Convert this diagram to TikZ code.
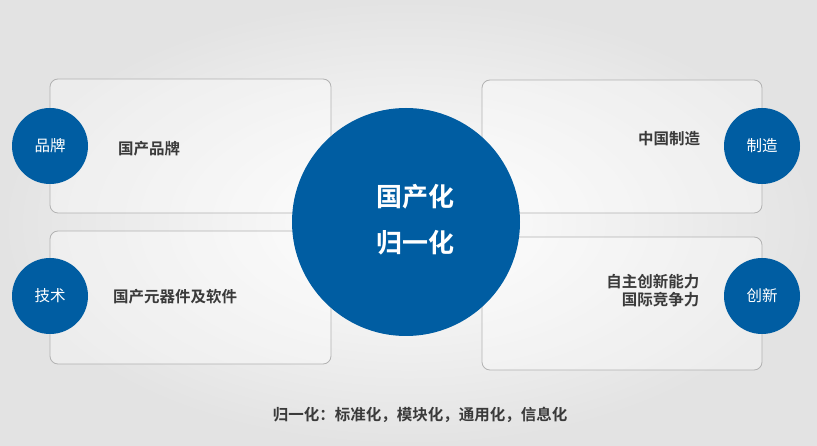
\documentclass[tikz,border=0pt]{standalone}
\usepackage{fontspec}
\setmainfont{Noto Sans CJK SC}
\newfontfamily\cjkb{Noto Sans CJK SC Bold}
\begin{document}
\begin{tikzpicture}[x=1pt,y=-1pt,
  panel/.style={draw=gray!60,line width=0.8pt,rounded corners=8pt,fill=white,fill opacity=0.35},
  dot/.style={circle,fill=blue1,inner sep=0pt,minimum size=76pt,text=white,font=\fontsize{15.5}{18}\selectfont},
  lbl/.style={text=txt,font=\cjkb\fontsize{15.5}{19}\selectfont}]
\definecolor{blue1}{HTML}{005DA2}
\definecolor{txt}{HTML}{3A3A3A}
\useasboundingbox (0,0) rectangle (817,446);
\shade[inner color=white,outer color=gray!22] (0,0) rectangle (817,446);
\draw[panel] (50,79) rectangle (331,213);
\draw[panel] (50,231) rectangle (331,364);
\draw[panel] (482,80) rectangle (762,213);
\draw[panel] (482,237) rectangle (762,370);
\node[circle,fill=blue1,minimum size=228pt,inner sep=0pt] (c) at (406,222) {};
\node[text=white,font=\cjkb\fontsize{26}{30}\selectfont] (c1) at (415,197) {国产化};
\node[text=white,font=\cjkb\fontsize{26}{30}\selectfont] (c2) at (415,243) {归一化};
\node[dot] (a) at (50,146) {品牌};
\node[dot] (b) at (50,296) {技术};
\node[dot] (d) at (762,146) {制造};
\node[dot] (e) at (762,296) {创新};
\node[lbl] (ta) at (149,149) {国产品牌};
\node[lbl] (tb) at (175,297) {国产元器件及软件};
\node[lbl] (td) at (669,139) {中国制造};
\node[lbl,align=right,anchor=east] (te) at (703,291) {自主创新能力\\[-1pt]国际竞争力};
\node[lbl] (bt) at (420,415) {归一化：标准化，模块化，通用化，信息化};
\end{tikzpicture}
\end{document}
